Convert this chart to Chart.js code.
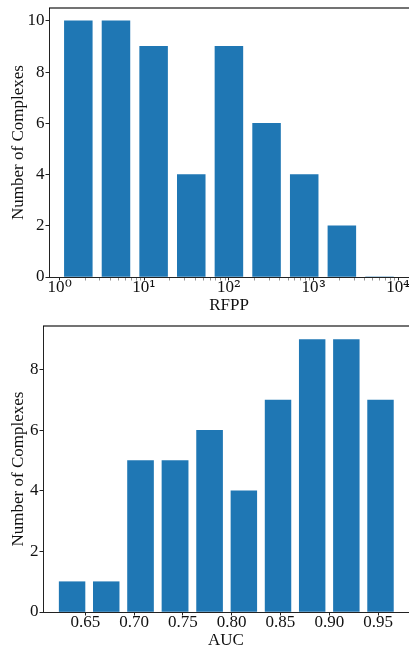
<!DOCTYPE html>
<html><head><meta charset="utf-8">
<script src="https://cdn.jsdelivr.net/npm/chart.js@4.4.0/dist/chart.umd.min.js"></script>
<style>
@font-face { font-family: 'SupSerif'; src: local('DejaVu Serif'), local('DejaVuSerif'); unicode-range: U+00B2-00B3, U+00B9, U+2070-2079; }
html,body{margin:0;padding:0;background:#fff;overflow:hidden;width:409px;height:648px;position:relative;}
#w1{position:absolute;left:0;top:0;width:409px;height:320px;}
#w2{position:absolute;left:0;top:320px;width:409px;height:332px;}
</style></head><body>
<div id="w1"><canvas id="c1"></canvas></div>
<div id="w2"><canvas id="c2"></canvas></div>
<script>
// ---- data ----
const rfppBinEdges = [1, 2.783, 7.743, 21.54, 59.95, 166.8, 464.2, 1292, 3594, 10000];
const rfppCounts = [10, 10, 9, 4, 9, 6, 4, 2, 0];
const rfppTickValues = [1, 10, 100, 1000, 10000];
const rfppTickLabels = ['10\u2070', '10\u00B9', '10\u00B2', '10\u00B3', '10\u2074'];
const rfppYTicks = [0, 2, 4, 6, 8, 10];

const aucBinEdges = [0.619, 0.654, 0.689, 0.724, 0.760, 0.795, 0.830, 0.865, 0.900, 0.935, 0.970];
const aucCounts = [1, 1, 5, 5, 6, 4, 7, 9, 9, 7];
const aucTickValues = [0.65, 0.70, 0.75, 0.80, 0.85, 0.90, 0.95];
const aucTickLabels = ['0.65', '0.70', '0.75', '0.80', '0.85', '0.90', '0.95'];
const aucYTicks = [0, 2, 4, 6, 8];

// ---- styling ----
const FAMILY = "'Liberation Serif', 'Times New Roman', serif";
const FONT = {family: FAMILY, size: 17};
const SUPFONT = {family: "SupSerif, " + FAMILY, size: 17};
const TXT = '#111';
const BAR = '#1f77b4';

const topSpine = {
  id: 'topSpine',
  afterDraw(chart) {
    const {ctx, chartArea: a} = chart;
    ctx.save();
    ctx.strokeStyle = 'rgba(0,0,0,0.55)';
    ctx.lineWidth = 2;
    ctx.beginPath();
    ctx.moveTo(a.left, a.top);
    ctx.lineTo(a.right + 2, a.top);
    ctx.stroke();
    ctx.restore();
  }
};

function minorLogTicks(min, max) {
  const out = [];
  for (let d = 0; d <= 4; d++) {
    for (let m = 1; m <= 9; m++) {
      const v = m * Math.pow(10, d);
      if (v >= min && v <= max) out.push({value: v, major: m === 1});
    }
  }
  return out;
}

function build() {
  // ---- chart 1 : RFPP ----
  const rfppData = rfppCounts.map((c, i) => ({x: Math.sqrt(rfppBinEdges[i] * rfppBinEdges[i + 1]), y: c}));
  const xMin1 = Math.pow(10, -0.124), xMax1 = Math.pow(10, 4.126);

  new Chart(document.getElementById('c1'), {
    type: 'bar',
    data: {datasets: [{data: rfppData, backgroundColor: BAR, borderWidth: 0,
      barThickness: 'flex', categoryPercentage: 1, barPercentage: 0.74}]},
    options: {
      responsive: true, maintainAspectRatio: false, animation: false, devicePixelRatio: 1,
      layout: {padding: {top: 8, left: 0, right: 0, bottom: 0}},
      plugins: {legend: {display: false}, tooltip: {enabled: false}},
      scales: {
        x: {
          type: 'logarithmic', min: xMin1, max: xMax1, offset: false,
          grid: {offset: false, drawOnChartArea: false, drawTicks: true, tickLength: 3.5,
            tickColor: (ctx) => (ctx.tick && ctx.tick.major ? '#222' : '#666'),
            tickWidth: (ctx) => (ctx.tick && ctx.tick.major ? 1 : 0.7)},
          border: {color: '#222', width: 1},
          afterBuildTicks: (s) => { s.ticks = minorLogTicks(xMin1, xMax1); },
          ticks: {
            autoSkip: false, maxRotation: 0, minRotation: 0, padding: -3.2, color: TXT, font: SUPFONT,
            callback: function (v) {
              const k = rfppTickValues.indexOf(v);
              return k >= 0 ? rfppTickLabels[k] : '';
            }
          },
          title: {display: true, text: 'RFPP', color: TXT, font: FONT, padding: {top: 0, bottom: 4.5}},
          afterFit: (s) => { s.height = 43; s.paddingLeft = 0; s.paddingRight = 0; }
        },
        y: {
          type: 'linear', min: 0, max: 10.5,
          grid: {drawOnChartArea: false, drawTicks: true, tickLength: 3.5, tickColor: '#222'},
          border: {color: '#222', width: 1},
          afterBuildTicks: (s) => { s.ticks = rfppYTicks.map(v => ({value: v})); },
          ticks: {padding: 1, color: TXT, font: FONT, callback: (v) => String(v)},
          title: {display: true, text: 'Number of Complexes', color: TXT, font: FONT, padding: {top: 8.5, bottom: 0}},
          afterFit: (s) => { s.width = 49; s.paddingTop = 0; s.paddingBottom = 0; }
        }
      }
    },
    plugins: [topSpine]
  });

  // ---- chart 2 : AUC ----
  const aucData = aucCounts.map((c, i) => ({x: (aucBinEdges[i] + aucBinEdges[i + 1]) / 2, y: c}));
  const xMin2 = 0.6067, xMax2 = 0.9817;

  new Chart(document.getElementById('c2'), {
    type: 'bar',
    data: {datasets: [{data: aucData, backgroundColor: BAR, borderWidth: 0,
      barThickness: 'flex', categoryPercentage: 1, barPercentage: 0.755}]},
    options: {
      responsive: true, maintainAspectRatio: false, animation: false, devicePixelRatio: 1,
      layout: {padding: {top: 6, left: 0, right: 0, bottom: 0}},
      plugins: {legend: {display: false}, tooltip: {enabled: false}},
      scales: {
        x: {
          type: 'linear', min: xMin2, max: xMax2, offset: false,
          grid: {offset: false, drawOnChartArea: false, drawTicks: true, tickLength: 3.5, tickColor: '#222'},
          border: {color: '#222', width: 1},
          afterBuildTicks: (s) => { s.ticks = aucTickValues.map(v => ({value: v})); },
          ticks: {
            autoSkip: false, maxRotation: 0, minRotation: 0, padding: -3.2, color: TXT, font: FONT,
            callback: function (v) {
              const k = aucTickValues.findIndex(t => Math.abs(t - v) < 1e-9);
              return k >= 0 ? aucTickLabels[k] : '';
            }
          },
          title: {display: true, text: 'AUC', color: TXT, font: FONT, padding: {top: 0, bottom: 1}},
          afterFit: (s) => { s.height = 40; s.paddingLeft = 0; s.paddingRight = 0; }
        },
        y: {
          type: 'linear', min: 0, max: 9.45,
          grid: {drawOnChartArea: false, drawTicks: true, tickLength: 3.5, tickColor: '#222'},
          border: {color: '#222', width: 1},
          afterBuildTicks: (s) => { s.ticks = aucYTicks.map(v => ({value: v})); },
          ticks: {padding: 1, color: TXT, font: FONT, callback: (v) => String(v)},
          title: {display: true, text: 'Number of Complexes', color: TXT, font: FONT, padding: {top: 8.5, bottom: 0}},
          afterFit: (s) => { s.width = 43; s.paddingTop = 0; s.paddingBottom = 0; }
        }
      }
    },
    plugins: [topSpine]
  });
}

let built = false;
function go() { if (!built) { built = true; build(); } }
if (document.fonts && document.fonts.load) {
  document.fonts.load("17px SupSerif", "\u2070\u00B9\u00B2\u00B3\u2074").then(go, go);
  setTimeout(go, 1500);
} else { go(); }
</script>
</body></html>
